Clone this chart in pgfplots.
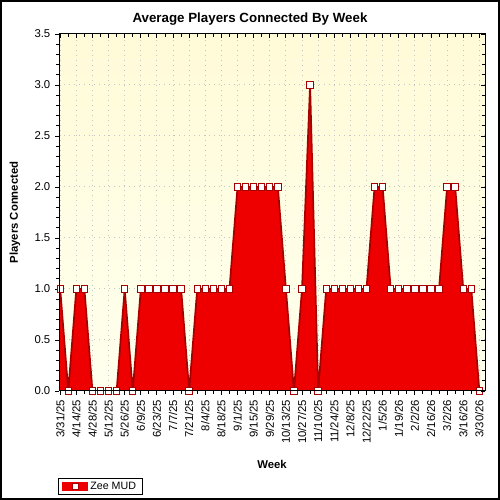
\documentclass[border=0pt]{standalone}
\usepackage{pgfplots}
\usepackage{pgfplotstable}
\usepackage{fontspec}
\setmainfont{Liberation Sans}
\pgfplotsset{compat=1.18}
\definecolor{areared}{HTML}{EE0000}
\definecolor{edgered}{HTML}{A80000}
\definecolor{bgtop}{HTML}{FFFBD8}
\definecolor{bgbot}{HTML}{FFFFEE}
\definecolor{griddot}{HTML}{C4C4C4}

% weekly average, 3/31/25 .. 3/30/26
\pgfplotstableread{
wk val
0 1
1 0
2 1
3 1
4 0
5 0
6 0
7 0
8 1
9 0
10 1
11 1
12 1
13 1
14 1
15 1
16 0
17 1
18 1
19 1
20 1
21 1
22 2
23 2
24 2
25 2
26 2
27 2
28 1
29 0
30 1
31 3
32 0
33 1
34 1
35 1
36 1
37 1
38 1
39 2
40 2
41 1
42 1
43 1
44 1
45 1
46 1
47 1
48 2
49 2
50 1
51 1
52 0
}\players

\pgfplotsset{
  frameaxis/.style={
    at={(44.25pt,81.75pt)}, anchor=south west,
    scale only axis, width=319.5pt, height=267.75pt,
    xmin=-0.15, xmax=52.7, ymin=0, ymax=3.5,
    xtick={0,2,...,52}, minor x tick num=1,
    ytick={0,0.5,...,3.5}, minor y tick num=4,
    major tick length=3pt, minor tick length=2pt,
    axis line style={black, line width=0.75pt},
    every tick/.style={black, line width=0.7pt},
  },
}

\begin{document}
\begin{tikzpicture}
\begin{axis}[
  frameaxis,
  tick align=outside, tick pos=left,
  clip mode=individual,
  axis background/.style={top color=bgtop, bottom color=bgbot},
  grid=major,
  grid style={griddot, line width=0.75pt, dash pattern=on 0.75pt off 3pt},
  /pgf/number format/assume math mode=true,
  xticklabels={3/31/25,4/14/25,4/28/25,5/12/25,5/26/25,6/9/25,6/23/25,7/7/25,7/21/25,8/4/25,8/18/25,9/1/25,9/15/25,9/29/25,10/13/25,10/27/25,11/10/25,11/24/25,12/8/25,12/22/25,1/5/26,1/19/26,2/2/26,2/16/26,3/2/26,3/16/26,3/30/26},
  x tick label style={rotate=90, anchor=east, font=\fontsize{8.5}{9}\selectfont},
  y tick label style={font=\fontsize{8.5}{9}\selectfont,
    /pgf/number format/.cd, fixed, fixed zerofill, precision=1},
  xlabel={\bfseries Week},
  xlabel style={at={(axis description cs:0.5,-0.2045)}, anchor=center,
    font=\fontsize{8.5}{10}\selectfont},
  ylabel={\bfseries Players Connected},
  ylabel style={at={(axis description cs:-0.1033,0.5)}, anchor=center,
    font=\fontsize{8.5}{10}\selectfont},
  legend style={at={(axis description cs:-0.002,-0.244)}, anchor=north west,
    draw=black, line width=0.75pt, font=\fontsize{8}{9}\selectfont,
    inner xsep=2.5pt, inner ysep=0.5pt},
  legend image code/.code={
    \fill[areared] (0pt,-2.6pt) rectangle (18pt,2.6pt);
    \draw[edgered, fill=white, line width=0.7pt] (7pt,-2.3pt) rectangle (11.5pt,2.3pt);
  },
]
\addplot[fill=areared, draw=none, forget plot] table[x=wk, y=val] {\players} \closedcycle;
\addplot[edgered, line width=1.3pt, mark=square*, mark size=2.4pt,
  mark options={fill=white, draw=edgered, line width=0.75pt}]
  table[x=wk, y=val] {\players};
\addlegendentry{Zee MUD}
\end{axis}
\begin{axis}[
  frameaxis,
  tick align=inside, tick pos=right,
  xticklabels={}, yticklabels={},
]
\end{axis}
% chart title, centred on the page
\node[anchor=base, font=\fontsize{10}{12}\selectfont\bfseries, inner sep=0pt]
  at (187.5pt,357.75pt) {Average Players Connected By Week};
\draw[line width=1.2pt] (0.6pt,0.6pt) rectangle (374.4pt,374.4pt);
\pgfresetboundingbox
\useasboundingbox (0,0) rectangle (375pt,375pt);
\end{tikzpicture}
\end{document}
